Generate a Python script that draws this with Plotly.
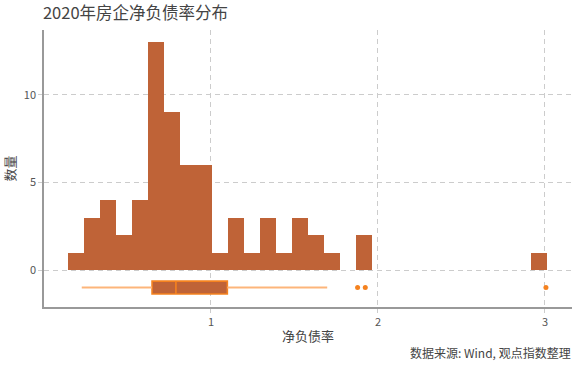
import plotly.graph_objects as go

# histogram data (30 equal bins starting at bin_start)
bin_start = 0.146
bin_width = 0.0956
counts = [1, 3, 4, 2, 4, 13, 9, 6, 6, 1, 3, 1, 3, 1, 3, 2, 1, 0, 2,
          0, 0, 0, 0, 0, 0, 0, 0, 0, 0, 1]

# box plot statistics
q1 = 0.647
median = 0.790
q3 = 1.098
lower_fence = 0.226
upper_fence = 1.696
outliers = [1.878, 1.924, 3.006]
box_pos = -1

x_ticks = [1, 2, 3]
y_ticks = [0, 5, 10]

centers = [bin_start + (i + 0.5) * bin_width for i in range(len(counts))]

FONT = "Noto Sans CJK SC, Noto Sans, sans-serif"
BAR = "#bf6337"
ORANGE = "#f5821f"
LIGHT = "#fdb57a"

fig = go.Figure()
fig.add_trace(go.Bar(
    x=centers, y=counts, width=bin_width,
    marker=dict(color=BAR, line=dict(width=0)),
    showlegend=False, hoverinfo="skip"))

# whiskers
fig.add_trace(go.Scatter(
    x=[lower_fence, q1, None, q3, upper_fence],
    y=[box_pos, box_pos, None, box_pos, box_pos],
    mode="lines", line=dict(color=LIGHT, width=2),
    showlegend=False, hoverinfo="skip"))

fig.add_trace(go.Box(
    y=[box_pos], q1=[q1], median=[median], q3=[q3],
    lowerfence=[q1], upperfence=[q3], orientation="h", width=0.74,
    fillcolor=BAR, line=dict(color=ORANGE, width=1.6),
    showlegend=False, hoverinfo="skip"))

fig.add_trace(go.Scatter(
    x=outliers, y=[box_pos] * len(outliers), mode="markers",
    marker=dict(color=ORANGE, size=5), showlegend=False, hoverinfo="skip"))

axis_common = dict(
    showgrid=True, gridcolor="#cccccc", griddash="5px,4px", gridwidth=1,
    zeroline=False, showline=True, linecolor="#999999", linewidth=1.5,
    ticks="outside", ticklen=4, tickcolor="#cccccc", automargin=False,
    tickfont=dict(family=FONT, size=11, color="#555555"))

fig.update_layout(
    width=580, height=367,
    margin=dict(l=44, r=8, t=30, b=60, autoexpand=False),
    paper_bgcolor="white", plot_bgcolor="white",
    bargap=0,
    font=dict(family=FONT, color="#444444"),
    title=dict(text="2020年房企净负债率分布", x=0.074, xanchor="left",
               y=0.963, yanchor="middle",
               font=dict(family=FONT, size=16.5, color="#444444")),
    xaxis=dict(range=[0, 3.162], tickvals=x_ticks,
               title=dict(text="净负债率", font=dict(family=FONT, size=13, color="#444444"),
                          standoff=4),
               **axis_common),
    yaxis=dict(range=[-2.11, 13.71], tickvals=y_ticks, mirror=False,
               title=dict(text="数量", font=dict(family=FONT, size=13, color="#444444"),
                          standoff=6),
               **axis_common),
    annotations=[dict(text="数据来源: Wind, 观点指数整理", xref="paper", yref="paper",
                      x=1.0, y=-0.165, xanchor="right", yanchor="middle",
                      xshift=1, showarrow=False,
                      font=dict(family=FONT, size=12, color="#444444"))],
)

fig.write_html("out.html", config={"displayModeBar": False},
               post_script="document.body.style.margin='0';document.body.style.overflow='hidden';")
